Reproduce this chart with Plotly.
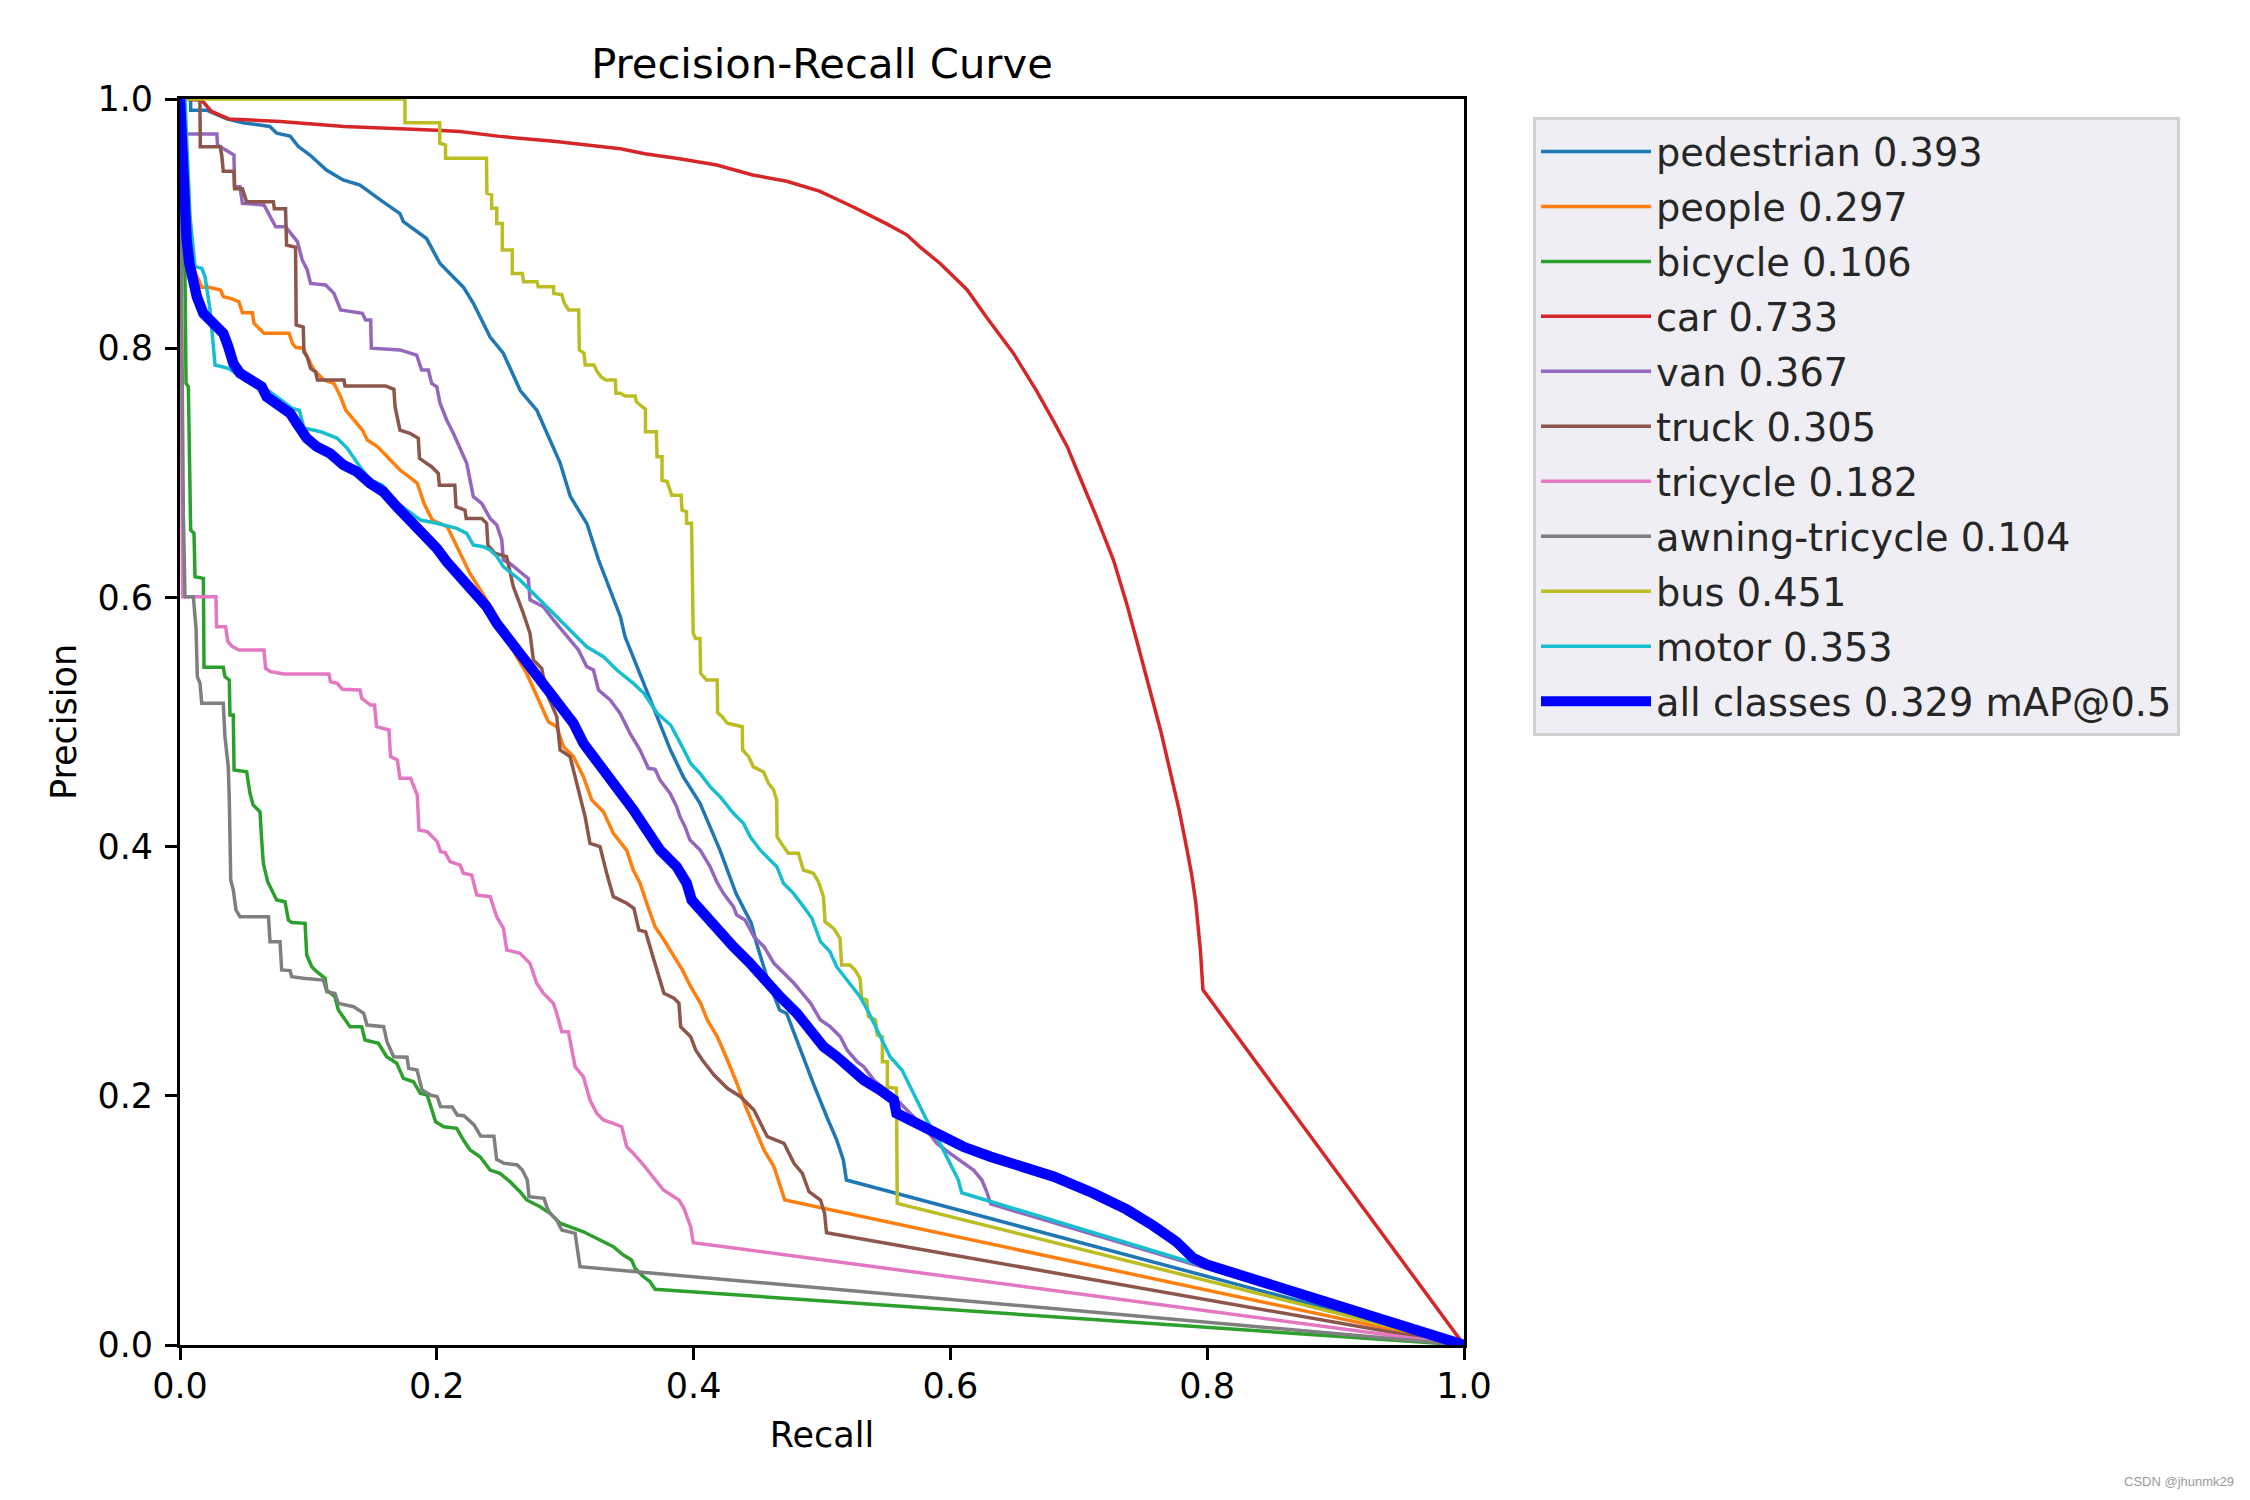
import plotly.graph_objects as go

# ---------------- data (recall, precision) ----------------
PEDESTRIAN = [(0, 1), (0.0083, 1.0), (0.0083, 0.991), (0.0208, 0.991), (0.0364, 0.984), (0.049, 0.981),
              (0.070, 0.978), (0.0753, 0.9725), (0.0857, 0.9703), (0.092, 0.962), (0.1012, 0.955),
              (0.114, 0.943), (0.127, 0.935), (0.1402, 0.931), (0.156, 0.919), (0.1713, 0.908),
              (0.174, 0.9015), (0.192, 0.888), (0.2025, 0.868), (0.2207, 0.849), (0.2285, 0.836),
              (0.2415, 0.809), (0.2518, 0.796), (0.265, 0.766), (0.278, 0.750), (0.288, 0.726),
              (0.296, 0.708), (0.304, 0.681), (0.317, 0.659), (0.326, 0.630), (0.343, 0.5845),
              (0.3466, 0.5685), (0.358, 0.539), (0.3686, 0.5123), (0.382, 0.4775), (0.392, 0.456),
              (0.405, 0.4348), (0.4206, 0.397), (0.433, 0.3625), (0.445, 0.3384), (0.449, 0.3224),
              (0.457, 0.2956), (0.467, 0.2689), (0.4725, 0.266), (0.483, 0.2368), (0.4932, 0.210),
              (0.5037, 0.1832), (0.5115, 0.1645), (0.5166, 0.1485), (0.519, 0.1324), (1.0, 0.0)]

PEOPLE = [(0, 1), (0.002, 0.93), (0.008, 0.87), (0.0169, 0.849), (0.0225, 0.8489), (0.0316, 0.8467),
          (0.0337, 0.8413), (0.0394, 0.84), (0.0459, 0.8373), (0.0486, 0.8285), (0.0564, 0.8285),
          (0.0576, 0.820), (0.0615, 0.816), (0.0654, 0.812), (0.0849, 0.812), (0.0875, 0.804),
          (0.090, 0.8007), (0.096, 0.800), (0.0991, 0.793), (0.1043, 0.7825), (0.1121, 0.7745),
          (0.1199, 0.7718), (0.1251, 0.761), (0.129, 0.7504), (0.1354, 0.7424), (0.142, 0.7343),
          (0.1459, 0.7263), (0.1537, 0.721), (0.1615, 0.7129), (0.1713, 0.7022), (0.1782, 0.6969),
          (0.1848, 0.6916), (0.190, 0.6755), (0.1965, 0.662), (0.2082, 0.6567), (0.2146, 0.6434),
          (0.2198, 0.6314), (0.2259, 0.619), (0.2388, 0.598), (0.2622, 0.5524), (0.270, 0.539),
          (0.2778, 0.5203), (0.2869, 0.5002), (0.2934, 0.4962), (0.2986, 0.4802), (0.3064, 0.4722),
          (0.3142, 0.4561), (0.3207, 0.4374), (0.3298, 0.428), (0.3375, 0.4106), (0.3479, 0.397),
          (0.3531, 0.381), (0.3583, 0.3706), (0.3635, 0.3545), (0.370, 0.3357), (0.3769, 0.325),
          (0.3847, 0.3116), (0.3912, 0.301), (0.3977, 0.2876), (0.4055, 0.2742), (0.4107, 0.2608),
          (0.4185, 0.2474), (0.4263, 0.2287), (0.4327, 0.2127), (0.4405, 0.1913), (0.447, 0.1752),
          (0.4548, 0.1565), (0.4626, 0.1431), (0.4665, 0.1298), (0.471, 0.1164), (1.0, 0.0)]

BICYCLE = [(0, 1), (0.002, 0.95), (0.0039, 0.857), (0.0047, 0.7718), (0.0065, 0.769), (0.0083, 0.654),
           (0.0109, 0.6514), (0.0117, 0.630), (0.0117, 0.6166), (0.0182, 0.6153), (0.0187, 0.5439),
           (0.0337, 0.5439), (0.035, 0.5364), (0.0384, 0.5337), (0.0389, 0.5056), (0.0415, 0.5056),
           (0.0421, 0.4615), (0.0519, 0.4601), (0.0545, 0.4427), (0.057, 0.4334), (0.0623, 0.428),
           (0.0636, 0.4053), (0.0649, 0.3866), (0.0683, 0.3718), (0.0753, 0.3571), (0.0818, 0.3558),
           (0.0844, 0.3411), (0.0870, 0.339), (0.0974, 0.3384), (0.0987, 0.313), (0.1026, 0.3036),
           (0.1065, 0.2996), (0.113, 0.2943), (0.1143, 0.2849), (0.1207, 0.2795), (0.1233, 0.2689),
           (0.1285, 0.2608), (0.1324, 0.2555), (0.1415, 0.2555), (0.1441, 0.2448), (0.1545, 0.2421),
           (0.161, 0.2314), (0.1688, 0.2261), (0.174, 0.214), (0.1818, 0.2113), (0.1871, 0.202),
           (0.1925, 0.2006), (0.1991, 0.1792), (0.2055, 0.1752), (0.2155, 0.1739), (0.2207, 0.1645),
           (0.2259, 0.1565), (0.2337, 0.1511), (0.2415, 0.1404), (0.2492, 0.1378), (0.257, 0.1311),
           (0.2648, 0.123), (0.270, 0.1164), (0.2804, 0.111), (0.2882, 0.1057), (0.296, 0.0977),
           (0.3038, 0.0949), (0.3142, 0.0909), (0.322, 0.0869), (0.3298, 0.0829), (0.3375, 0.0789),
           (0.3453, 0.0722), (0.3517, 0.0682), (0.3544, 0.0616), (0.3609, 0.0548), (0.3661, 0.0508),
           (0.370, 0.0447), (1.0, 0.0)]

CAR = [(0, 1), (0.017, 0.999), (0.0245, 0.99), (0.034, 0.986), (0.038, 0.984), (0.078, 0.982),
       (0.128, 0.978), (0.2, 0.975), (0.218, 0.974), (0.249, 0.970), (0.291, 0.966), (0.343, 0.960),
       (0.362, 0.956), (0.389, 0.952), (0.418, 0.947), (0.446, 0.939), (0.4725, 0.934), (0.498, 0.926),
       (0.524, 0.9135), (0.550, 0.900), (0.566, 0.891), (0.576, 0.8815), (0.592, 0.868), (0.613, 0.847),
       (0.628, 0.825), (0.649, 0.796), (0.667, 0.766), (0.680, 0.742), (0.691, 0.721), (0.701, 0.696),
       (0.714, 0.664), (0.727, 0.630), (0.737, 0.596), (0.746, 0.562), (0.756, 0.524), (0.764, 0.492),
       (0.771, 0.461), (0.778, 0.430), (0.784, 0.399), (0.788, 0.377), (0.791, 0.356), (0.7947, 0.317),
       (0.7967, 0.285), (1.0, 0.0)]

VAN = [(0, 1), (0.001, 0.972), (0.0287, 0.972), (0.0292, 0.963), (0.042, 0.955), (0.0425, 0.9296),
       (0.0467, 0.9296), (0.0486, 0.9163), (0.0654, 0.915), (0.0706, 0.9056), (0.0745, 0.8975),
       (0.0822, 0.8975), (0.0875, 0.8909), (0.0914, 0.8855), (0.0952, 0.8708), (0.0991, 0.8628),
       (0.1017, 0.852), (0.1134, 0.8507), (0.1199, 0.844), (0.1251, 0.8307), (0.142, 0.828),
       (0.1446, 0.8226), (0.1485, 0.8226), (0.149, 0.80), (0.1713, 0.7986), (0.1843, 0.7945),
       (0.1882, 0.7825), (0.1934, 0.7825), (0.196, 0.7718), (0.2, 0.7691), (0.2025, 0.7558),
       (0.2077, 0.7424), (0.2129, 0.7317), (0.2194, 0.7157), (0.2233, 0.7076), (0.2285, 0.6808),
       (0.235, 0.6755), (0.2415, 0.6634), (0.2467, 0.6581), (0.2506, 0.6461), (0.2518, 0.630),
       (0.257, 0.6273), (0.2674, 0.618), (0.2713, 0.615), (0.2726, 0.598), (0.283, 0.5925),
       (0.2908, 0.5819), (0.3012, 0.5685), (0.3103, 0.5578), (0.3168, 0.5444), (0.322, 0.5417),
       (0.3259, 0.5257), (0.335, 0.5177), (0.3427, 0.507), (0.3505, 0.4909), (0.3583, 0.4775),
       (0.3648, 0.4628), (0.370, 0.462), (0.3738, 0.4535), (0.3816, 0.4428), (0.3868, 0.432),
       (0.3894, 0.424), (0.3933, 0.416), (0.3972, 0.4053), (0.405, 0.3973), (0.4128, 0.3839),
       (0.418, 0.3718), (0.4232, 0.3625), (0.431, 0.3518), (0.4336, 0.3451), (0.4401, 0.3411),
       (0.447, 0.3277), (0.4548, 0.3197), (0.4626, 0.3063), (0.4704, 0.2983), (0.4782, 0.2903),
       (0.4847, 0.2823), (0.4912, 0.2742), (0.4988, 0.2608), (0.5064, 0.2555), (0.5143, 0.2474),
       (0.5195, 0.2368), (0.5273, 0.2274), (0.5325, 0.2234), (0.5404, 0.2127), (0.560, 0.195),
       (0.5815, 0.1726), (0.5893, 0.1619), (0.5997, 0.1538), (0.6101, 0.1458), (0.618, 0.1404),
       (0.6245, 0.1324), (0.6283, 0.123), (0.6314, 0.1132), (1.0, 0.0)]

TRUCK = [(0, 1), (0.0155, 1.0), (0.0158, 0.9617), (0.0312, 0.9617), (0.0325, 0.955), (0.0337, 0.942),
         (0.042, 0.942), (0.0425, 0.928), (0.0486, 0.928), (0.0519, 0.9176), (0.0727, 0.9176),
         (0.0735, 0.912), (0.0822, 0.912), (0.0830, 0.8828), (0.090, 0.881), (0.0905, 0.8186),
         (0.096, 0.817), (0.0965, 0.797), (0.0991, 0.793), (0.1017, 0.7838), (0.1056, 0.781),
         (0.107, 0.7745), (0.1277, 0.7745), (0.1285, 0.7697), (0.1601, 0.7697), (0.1666, 0.767),
         (0.1675, 0.7531), (0.1713, 0.7343), (0.1791, 0.7317), (0.1856, 0.7277), (0.1865, 0.7116),
         (0.1959, 0.7049), (0.2011, 0.6996), (0.2020, 0.690), (0.214, 0.690), (0.215, 0.6728),
         (0.222, 0.670), (0.2229, 0.6634), (0.2349, 0.6634), (0.2388, 0.6595), (0.2398, 0.642),
         (0.2453, 0.6354), (0.2544, 0.6327), (0.2596, 0.6086), (0.2674, 0.5872), (0.2726, 0.5712),
         (0.2752, 0.5498), (0.2817, 0.5431), (0.2856, 0.523), (0.2934, 0.5043), (0.296, 0.4775),
         (0.3038, 0.4722), (0.3103, 0.4454), (0.3155, 0.424), (0.3193, 0.4026), (0.3271, 0.4),
         (0.3323, 0.3786), (0.3375, 0.3598), (0.3479, 0.3545), (0.3535, 0.3505), (0.3574, 0.333),
         (0.3626, 0.3317), (0.3691, 0.309), (0.3769, 0.2823), (0.3847, 0.2783), (0.3886, 0.2742),
         (0.3899, 0.2555), (0.3977, 0.2474), (0.4016, 0.2368), (0.4068, 0.2287), (0.4159, 0.2167),
         (0.4263, 0.206), (0.4366, 0.1993), (0.447, 0.1886), (0.4574, 0.1672), (0.4704, 0.1619),
         (0.4782, 0.1458), (0.4847, 0.1378), (0.4899, 0.123), (0.4988, 0.1164), (0.502, 0.1057),
         (0.5035, 0.0901), (1.0, 0.0)]

TRICYCLE = [(0, 1), (0.002, 0.6006), (0.028, 0.6006), (0.0285, 0.5765), (0.0355, 0.5765), (0.0373, 0.5645),
            (0.0408, 0.5605), (0.046, 0.5578), (0.0654, 0.5578), (0.0667, 0.543), (0.0706, 0.5404),
            (0.0809, 0.5385), (0.116, 0.5385), (0.1172, 0.5323), (0.1225, 0.531), (0.1264, 0.5262),
            (0.1402, 0.5257), (0.1415, 0.519), (0.1484, 0.5136), (0.1515, 0.5136), (0.1531, 0.4962),
            (0.1627, 0.4936), (0.164, 0.4722), (0.1693, 0.4695), (0.1713, 0.4548), (0.1796, 0.4548),
            (0.1848, 0.4414), (0.1861, 0.4133), (0.1926, 0.412), (0.2003, 0.404), (0.2029, 0.3959),
            (0.2065, 0.3952), (0.2103, 0.3879), (0.2181, 0.3852), (0.2207, 0.3786), (0.2272, 0.3772),
            (0.2311, 0.3612), (0.2415, 0.3598), (0.2467, 0.3437), (0.2519, 0.3344), (0.2545, 0.317),
            (0.2648, 0.3144), (0.2726, 0.3063), (0.2778, 0.2903), (0.283, 0.2823), (0.2908, 0.2742),
            (0.2934, 0.2662), (0.2973, 0.2515), (0.3025, 0.2515), (0.3077, 0.2234), (0.3142, 0.2153),
            (0.3193, 0.1966), (0.3245, 0.186), (0.3297, 0.1806), (0.3375, 0.1779), (0.344, 0.1752),
            (0.3479, 0.1591), (0.3531, 0.1538), (0.3609, 0.1445), (0.3713, 0.1311), (0.3765, 0.1244),
            (0.3886, 0.1164), (0.3925, 0.1097), (0.3977, 0.0949), (0.3998, 0.0821), (1.0, 0.0)]

AWNING_TRICYCLE = [(0, 1), (0.0026, 0.6675), (0.0039, 0.6006), (0.0104, 0.6006), (0.0117, 0.5845),
                   (0.0125, 0.575), (0.0135, 0.5364), (0.0156, 0.531), (0.0169, 0.515), (0.0337, 0.515),
                   (0.035, 0.4882), (0.0376, 0.4641), (0.0384, 0.4374), (0.0395, 0.3732), (0.0415, 0.3652),
                   (0.0436, 0.3491), (0.0467, 0.3437), (0.0689, 0.3437), (0.0701, 0.3237), (0.0779, 0.3237),
                   (0.0792, 0.301), (0.0857, 0.3005), (0.087, 0.2956), (0.096, 0.2943), (0.1116, 0.2929),
                   (0.1143, 0.2836), (0.1207, 0.2822), (0.1233, 0.2742), (0.1352, 0.2715), (0.1431, 0.2662),
                   (0.1456, 0.2568), (0.1586, 0.2555), (0.1612, 0.2434), (0.1664, 0.2314), (0.1768, 0.2309),
                   (0.1781, 0.222), (0.1846, 0.2207), (0.1885, 0.2047), (0.195, 0.2006), (0.2003, 0.1993),
                   (0.2029, 0.1913), (0.212, 0.1911), (0.2159, 0.1846), (0.2212, 0.184), (0.229, 0.1766),
                   (0.2342, 0.1677), (0.2445, 0.1675), (0.2466, 0.149), (0.2523, 0.1458), (0.2627, 0.1445),
                   (0.2666, 0.1404), (0.2705, 0.1324), (0.2718, 0.119), (0.2835, 0.1177), (0.2861, 0.1097),
                   (0.2882, 0.1057), (0.2934, 0.1003), (0.2973, 0.0923), (0.3077, 0.0896), (0.309, 0.0803),
                   (0.3115, 0.0628), (1.0, 0.0)]

BUS = [(0, 1), (0.1752, 1.0), (0.1752, 0.981), (0.2023, 0.981), (0.2023, 0.9645), (0.2068, 0.963),
       (0.2068, 0.9524), (0.2387, 0.9524), (0.239, 0.9243), (0.2427, 0.923), (0.2427, 0.9123),
       (0.2467, 0.9123), (0.2467, 0.900), (0.251, 0.900), (0.251, 0.8788), (0.2588, 0.8788),
       (0.2588, 0.860), (0.2666, 0.860), (0.2676, 0.8534), (0.278, 0.8534), (0.279, 0.8494),
       (0.291, 0.8494), (0.291, 0.844), (0.2973, 0.843), (0.2993, 0.836), (0.3027, 0.8307),
       (0.3105, 0.8307), (0.311, 0.7986), (0.3146, 0.796), (0.3156, 0.7865), (0.3224, 0.7865),
       (0.325, 0.781), (0.328, 0.777), (0.3315, 0.7745), (0.339, 0.7745), (0.3395, 0.7638),
       (0.343, 0.7638), (0.3466, 0.7616), (0.3544, 0.7616), (0.3555, 0.757), (0.3599, 0.753),
       (0.3625, 0.751), (0.3625, 0.733), (0.371, 0.733), (0.3715, 0.7129), (0.3754, 0.7129),
       (0.3754, 0.694), (0.3793, 0.693), (0.383, 0.682), (0.3903, 0.682), (0.391, 0.670),
       (0.3945, 0.6688), (0.3945, 0.6595), (0.3984, 0.6595), (0.3997, 0.5712), (0.4015, 0.567),
       (0.405, 0.567), (0.4055, 0.539), (0.410, 0.5337), (0.4184, 0.5337), (0.4187, 0.5075),
       (0.4223, 0.5043), (0.4262, 0.499), (0.4379, 0.4962), (0.4382, 0.4775), (0.443, 0.472),
       (0.4465, 0.464), (0.4544, 0.460), (0.4583, 0.4508), (0.4621, 0.446), (0.4647, 0.4374),
       (0.465, 0.408), (0.470, 0.400), (0.4738, 0.3946), (0.4816, 0.3946), (0.4855, 0.3812),
       (0.4933, 0.3786), (0.4972, 0.3718), (0.5011, 0.3598), (0.5024, 0.3397), (0.509, 0.3344),
       (0.514, 0.3264), (0.5153, 0.305), (0.5218, 0.305), (0.5257, 0.301), (0.5296, 0.2943),
       (0.5309, 0.2783), (0.5348, 0.2769), (0.5361, 0.2635), (0.5417, 0.2608), (0.543, 0.2488),
       (0.547, 0.2474), (0.547, 0.2274), (0.5509, 0.2274), (0.5509, 0.2068), (0.558, 0.206),
       (0.5586, 0.1137), (1.0, 0.0)]

MOTOR = [(0, 1), (0.0039, 1.0), (0.0052, 0.967), (0.0065, 0.940), (0.0078, 0.9055), (0.0104, 0.8788),
         (0.0117, 0.8654), (0.0169, 0.8641), (0.0195, 0.8574), (0.0234, 0.8307), (0.0246, 0.8146),
         (0.0273, 0.7865), (0.0377, 0.7839), (0.05, 0.775), (0.07, 0.765), (0.0875, 0.7517),
         (0.093, 0.75), (0.0966, 0.7357), (0.101, 0.735), (0.1095, 0.733), (0.1225, 0.7277),
         (0.1303, 0.7197), (0.14, 0.705), (0.1484, 0.6942), (0.1576, 0.690), (0.17, 0.675),
         (0.1873, 0.6621), (0.2, 0.6595), (0.2155, 0.6554), (0.2233, 0.6514), (0.2285, 0.642),
         (0.2363, 0.6407), (0.2415, 0.638), (0.2467, 0.633), (0.2518, 0.6247), (0.2648, 0.614),
         (0.2778, 0.6006), (0.2908, 0.5872), (0.3038, 0.5738), (0.3168, 0.5604), (0.3298, 0.5524),
         (0.3402, 0.5417), (0.3531, 0.531), (0.3613, 0.523), (0.3717, 0.507), (0.3821, 0.4976),
         (0.3912, 0.480), (0.3977, 0.4668), (0.405, 0.4588), (0.4128, 0.4481), (0.4206, 0.44),
         (0.431, 0.4267), (0.4388, 0.4187), (0.444, 0.408), (0.4518, 0.3973), (0.4596, 0.3892),
         (0.4648, 0.3839), (0.47, 0.3705), (0.4778, 0.3625), (0.4856, 0.3518), (0.4921, 0.3425),
         (0.4988, 0.3237), (0.5062, 0.3157), (0.5114, 0.3036), (0.5218, 0.2903), (0.5296, 0.2796),
         (0.5361, 0.2675), (0.5452, 0.2474), (0.553, 0.2314), (0.5623, 0.2207), (0.569, 0.2073),
         (0.5738, 0.1966), (0.5815, 0.1806), (0.5893, 0.1672), (0.5958, 0.1538), (0.6023, 0.1404),
         (0.6062, 0.1324), (0.6088, 0.1222), (1.0, 0.0)]

ALL_CLASSES = [(0, 1), (0.001, 0.975), (0.002, 0.9698), (0.0026, 0.9404), (0.0039, 0.9055), (0.0052, 0.8868),
               (0.0073, 0.8681), (0.0092, 0.8547), (0.0131, 0.8413), (0.0182, 0.828), (0.026, 0.820),
               (0.0337, 0.812), (0.0376, 0.8012), (0.0415, 0.7879), (0.0467, 0.7799), (0.0571, 0.7745),
               (0.0636, 0.7691), (0.0675, 0.7611), (0.0779, 0.7544), (0.0857, 0.7478), (0.0909, 0.7397),
               (0.0987, 0.7277), (0.1065, 0.721), (0.1168, 0.7157), (0.1272, 0.7063), (0.1376, 0.7009),
               (0.148, 0.6916), (0.1584, 0.6848), (0.1688, 0.6728), (0.1792, 0.6621), (0.1895, 0.6514),
               (0.2, 0.6394), (0.2077, 0.6287), (0.2207, 0.614), (0.2311, 0.6006), (0.2389, 0.5925),
               (0.2467, 0.5792), (0.2545, 0.5685), (0.2648, 0.5551), (0.2752, 0.5417), (0.2856, 0.5283),
               (0.296, 0.515), (0.3064, 0.499), (0.3142, 0.4829), (0.3245, 0.4695), (0.3349, 0.4561),
               (0.3427, 0.4428), (0.3531, 0.4294), (0.3635, 0.4133), (0.3738, 0.3973), (0.3868, 0.3839),
               (0.3946, 0.3706), (0.3985, 0.3571), (0.405, 0.3491), (0.418, 0.3331), (0.431, 0.3197),
               (0.444, 0.3063), (0.457, 0.2903), (0.4674, 0.2796), (0.4804, 0.2662), (0.4934, 0.2502),
               (0.5012, 0.2394), (0.5116, 0.2314), (0.5194, 0.2234), (0.5324, 0.2127), (0.5452, 0.2047),
               (0.556, 0.1966), (0.558, 0.186), (0.569, 0.1806), (0.5815, 0.1739), (0.5949, 0.1685),
               (0.6101, 0.1591), (0.6313, 0.1511), (0.6547, 0.1431), (0.6807, 0.1351), (0.7113, 0.1218),
               (0.7372, 0.1088), (0.7579, 0.0958), (0.776, 0.0828), (0.789, 0.0698), (0.7994, 0.0646),
               (1.0, 0.0)]

CLASS_NAMES = ["pedestrian", "people", "bicycle", "car", "van", "truck", "tricycle",
               "awning-tricycle", "bus", "motor"]
CLASS_AP = [0.393, 0.297, 0.106, 0.733, 0.367, 0.305, 0.182, 0.104, 0.451, 0.353]
CLASS_CURVES = [PEDESTRIAN, PEOPLE, BICYCLE, CAR, VAN, TRUCK, TRICYCLE, AWNING_TRICYCLE, BUS, MOTOR]
MAP50 = 0.329
X_TICKS = [0.0, 0.2, 0.4, 0.6, 0.8, 1.0]
Y_TICKS = [0.0, 0.2, 0.4, 0.6, 0.8, 1.0]

COLORS = ["#1f77b4", "#ff7f0e", "#2ca02c", "#d62728", "#9467bd", "#8c564b", "#e377c2",
          "#7f7f7f", "#bcbd22", "#17becf"]

FONT = "DejaVu Sans"

# ---------------- figure ----------------
W, H = 2250, 1500
OFF = 8                               # page body margin added by the browser
L, R, T, B = 180, 1464, 99, 1345      # target plot area in page pixels

fig = go.Figure()
for name, ap, curve, color in zip(CLASS_NAMES, CLASS_AP, CLASS_CURVES, COLORS):
    fig.add_trace(go.Scatter(
        x=[c[0] for c in curve], y=[c[1] for c in curve], mode="lines",
        name=f"{name} {ap:.3f}", legendgroup=name, line=dict(color=color, width=3.5),
        hoverinfo="skip"))
fig.add_trace(go.Scatter(
    x=[c[0] for c in ALL_CLASSES], y=[c[1] for c in ALL_CLASSES], mode="lines",
    name=f"all classes {MAP50:.3f} mAP@0.5", legendgroup="all", line=dict(color="#0000ff", width=10.4),
    hoverinfo="skip"))

axis_common = dict(
    range=[0, 1], showgrid=False, zeroline=False, showline=True, mirror=True,
    linecolor="black", linewidth=2.8, ticks="outside", ticklen=12, tickwidth=2.8,
    tickcolor="black", tickfont=dict(family=FONT, size=35, color="black"),
)

fig.update_layout(
    width=W, height=H,
    margin=dict(l=L - OFF, r=W - (R - OFF), t=T - OFF, b=H - (B - OFF), pad=0),
    paper_bgcolor="white", plot_bgcolor="white",
    font=dict(family=FONT, color="black"),
    title=dict(text="Precision-Recall Curve", x=((L + R) / 2 - OFF) / W, xanchor="center",
               y=1 - (63 - OFF) / H, yanchor="middle", font=dict(family=FONT, size=41.7, color="black")),
    xaxis=dict(**axis_common, tickvals=X_TICKS, ticktext=[f"{v:.1f}" for v in X_TICKS],
               ticklabelstandoff=-4,
               title=dict(text="Recall", font=dict(family=FONT, size=35, color="black"), standoff=18)),
    yaxis=dict(**axis_common, tickvals=Y_TICKS, ticktext=[f"{v:.1f}" for v in Y_TICKS],
               ticklabelstandoff=5,
               title=dict(text="Precision", font=dict(family=FONT, size=35, color="black"), standoff=11)),
    legend=dict(
        x=(1533 - L) / (R - L), y=(B - 117) / (B - T), xanchor="left", yanchor="top",
        bgcolor="#eeeef4", bordercolor="#d0d0d0", borderwidth=3,
        font=dict(family=FONT, size=38.3, color="#262626"),
        itemwidth=110, tracegroupgap=2.2,
    ),
    showlegend=True,
)

fig.add_annotation(text="CSDN @jhunmk29", xref="paper", yref="paper",
                   x=(2236 - L) / (R - L), y=(B - 1481) / (B - T), xanchor="right", yanchor="middle",
                   showarrow=False, font=dict(family="Liberation Sans", size=13, color="#9a9a9a"))

fig.write_html("out.html")
